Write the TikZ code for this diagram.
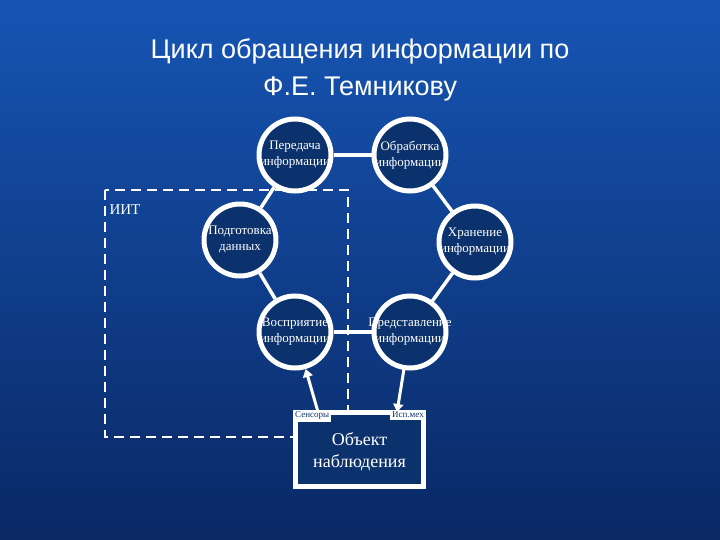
\documentclass[tikz,border=0pt]{standalone}
\usepackage{fontspec}
\setmainfont{Liberation Serif}
\newfontfamily\titlefont{Liberation Sans}
\usetikzlibrary{arrows.meta}
\definecolor{bgtop}{RGB}{22,85,180}
\definecolor{bgbot}{RGB}{10,40,100}
\definecolor{circfill}{RGB}{12,50,110}
\tikzset{
  stage/.style={circle,draw=white,line width=5pt,fill=circfill,minimum size=72pt,inner sep=0pt},
  stagetext/.style={text=white,align=center,font=\fontsize{13}{16}\selectfont,inner sep=0pt},
  link/.style={draw=white,line width=3.5pt},
  arr/.style={draw=white,line width=3pt,-{Triangle[length=8pt,width=10pt]}},
  tag/.style={fill=white,text=circfill,font=\fontsize{9}{10}\selectfont,inner sep=2pt}
}
\begin{document}
\begin{tikzpicture}[x=1pt,y=-1pt]
\shade[top color=bgtop,bottom color=bgbot] (0,0) rectangle (720,540);
\useasboundingbox (0,0) rectangle (720,540);
\node (title) at (360,70) [text=white,align=center,font=\titlefont\fontsize{27}{37}\selectfont] {Цикл обращения информации по\\Ф.Е. Темникову};
\draw[white,line width=2pt,dash pattern=on 10pt off 6pt] (105,190) rectangle (348,437);
\node (iit) at (125,210) [text=white,font=\fontsize{15}{17}\selectfont] {ИИТ};
\node[stage] (a) at (295,155) {};
\node[stage] (b) at (410,155) {};
\node[stage] (c) at (240,240) {};
\node[stage] (d) at (475,242) {};
\node[stage] (e) at (295,332) {};
\node[stage] (f) at (410,332) {};
\node[stagetext] (ta) at (a) {Передача\\информации};
\node[stagetext] (tb) at (b) {Обработка\\информации};
\node[stagetext] (tc) at (c) {Подготовка\\данных};
\node[stagetext] (td) at (d) {Хранение\\информации};
\node[stagetext] (te) at (e) {Восприятие\\информации};
\node[stagetext] (tf) at (f) {Представление\\информации};
\begin{scope}[on background layer/.style={}]
\end{scope}
\path[link] (a) -- (b);
\path[link] (b) -- (d);
\path[link] (d) -- (f);
\path[link] (f) -- (e);
\path[link] (e) -- (c);
\path[link] (c) -- (a);
\node (box) [draw=white,line width=5pt,fill=circfill,minimum width=128pt,minimum height=74pt,inner sep=0pt] at (359.5,449) {};
\node (obj) at (359.5,452) [text=white,align=center,font=\fontsize{18}{22}\selectfont] {Объект\\наблюдения};
\node[tag,anchor=north west] (sens) at (box.north west) {Сенсоры};
\node[tag,anchor=north east] (isp) at (box.north east) {Исп.мех};
\coordinate (boxl) at (318,412);
\coordinate (boxr) at (397,412);
\draw[arr] (boxl) -- (e);
\draw[arr] (f) -- (boxr);
\end{tikzpicture}
\end{document}
